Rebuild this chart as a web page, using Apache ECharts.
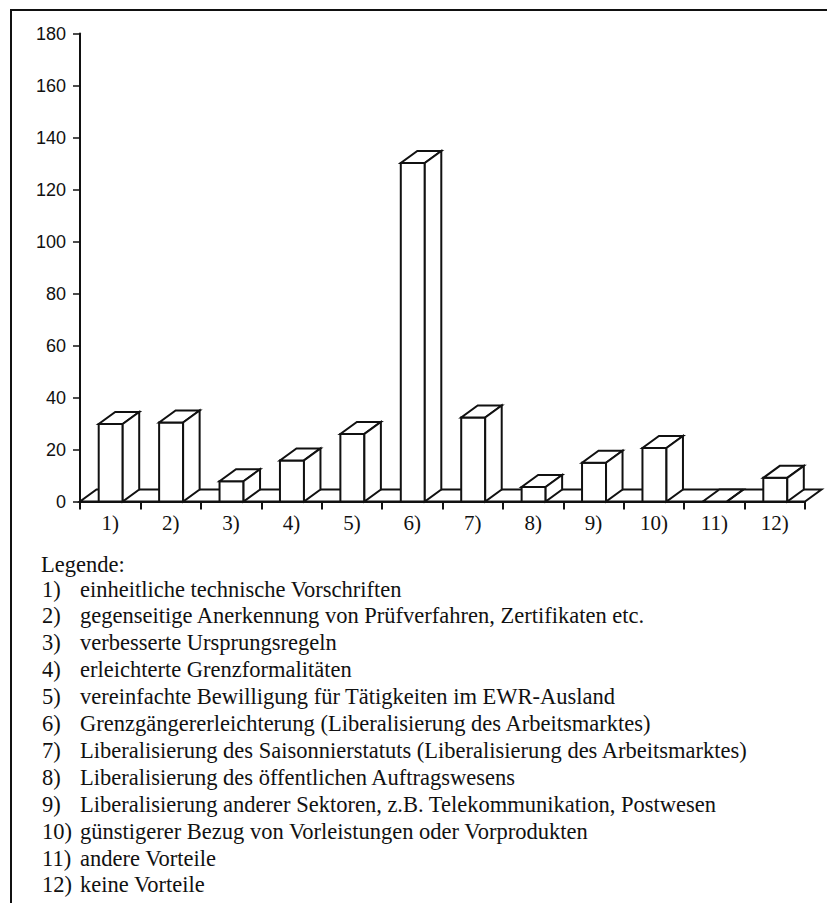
<!DOCTYPE html>
<html><head><meta charset="utf-8">
<script src="https://cdn.jsdelivr.net/npm/echarts@6/dist/echarts.min.js"></script>
<style>html,body{margin:0;padding:0;background:#fff}#c{width:827px;height:905px}</style>
</head><body><div id="c"></div>
<script>
const categories = ['1)','2)','3)','4)','5)','6)','7)','8)','9)','10)','11)','12)'];
const values = [29.8, 30.4, 7.8, 15.8, 26, 130.2, 32.3, 5.6, 14.9, 20.6, 0, 9.1];
const yMin = 0, yMax = 180, yStep = 20;
const legendTitle = 'Legende:';
const legendNumbers = ['1)','2)','3)','4)','5)','6)','7)','8)','9)','10)','11)','12)'];
const legendTexts = [
  'einheitliche technische Vorschriften',
  'gegenseitige Anerkennung von Prüfverfahren, Zertifikaten etc.',
  'verbesserte Ursprungsregeln',
  'erleichterte Grenzformalitäten',
  'vereinfachte Bewilligung für Tätigkeiten im EWR-Ausland',
  'Grenzgängererleichterung (Liberalisierung des Arbeitsmarktes)',
  'Liberalisierung des Saisonnierstatuts (Liberalisierung des Arbeitsmarktes)',
  'Liberalisierung des öffentlichen Auftragswesens',
  'Liberalisierung anderer Sektoren, z.B. Telekommunikation, Postwesen',
  'günstigerer Bezug von Vorleistungen oder Vorprodukten',
  'andere Vorteile',
  'keine Vorteile'
];

const INK = '#111';
const DX = 16.5, DY = -12;
const serif = '"Liberation Serif", "DejaVu Serif", serif';
const sans = '"Liberation Sans", "DejaVu Sans", sans-serif';

const chart = echarts.init(document.getElementById('c'), null, {renderer: 'svg'});

const faceStyle = {fill: '#fff', stroke: INK, lineWidth: 2, lineJoin: 'miter'};

function floorItem(params, api) {
  const cs = params.coordSys;
  const y0 = api.coord([0, 0])[1];
  const xl = cs.x, xr = cs.x + cs.width;
  return {
    type: 'polygon',
    shape: {points: [[xl, y0], [xr, y0], [xr + DX, y0 + DY], [xl + DX, y0 + DY]]},
    style: faceStyle, z2: 0
  };
}

function barItem(params, api) {
  const i = api.value(0), v = api.value(1);
  const b = api.coord([i, 0]);
  const t = api.coord([i, v]);
  const cx = b[0], y0 = b[1], yt = t[1];
  const x0 = cx - 11.5, x1 = cx + 12.5;
  return {
    type: 'group',
    children: [
      {type: 'polygon', shape: {points: [[x0, y0], [x1, y0], [x1, yt], [x0, yt]]}, style: faceStyle},
      {type: 'polygon', shape: {points: [[x0, yt], [x1, yt], [x1 + DX, yt + DY], [x0 + DX, yt + DY]]}, style: faceStyle},
      {type: 'polygon', shape: {points: [[x1, y0], [x1, yt], [x1 + DX, yt + DY], [x1 + DX, y0 + DY]]}, style: faceStyle}
    ]
  };
}

const LF = '22.5px ' + serif;
const legendGraphics = [];
legendGraphics.push({type: 'text', x: 41, y: 564, style: {text: legendTitle, font: LF, fill: INK, verticalAlign: 'middle'}});
legendNumbers.forEach((n, k) => {
  const y = 589 + k * 26.9;
  legendGraphics.push({type: 'text', x: 42, y: y, style: {text: n, font: LF, fill: INK, verticalAlign: 'middle'}});
  legendGraphics.push({type: 'text', x: 80, y: y, style: {text: legendTexts[k], font: LF, fill: INK, verticalAlign: 'middle'}});
});

chart.setOption({
  animation: false,
  backgroundColor: '#fff',
  grid: {left: 80, right: 22, top: 33.5, bottom: 403.5, containLabel: false},
  xAxis: {
    type: 'category', data: categories, boundaryGap: true,
    axisLine: {show: true, lineStyle: {color: INK, width: 2}},
    axisTick: {show: true, length: 8, alignWithLabel: false, lineStyle: {color: INK, width: 2}},
    axisLabel: {color: INK, fontFamily: serif, fontSize: 21, margin: 11},
    splitLine: {show: false}, z: 10
  },
  yAxis: {
    type: 'value', min: yMin, max: yMax, interval: yStep,
    axisLine: {show: true, lineStyle: {color: INK, width: 2}},
    axisTick: {show: true, length: 7, lineStyle: {color: INK, width: 1.5}},
    axisLabel: {color: INK, fontFamily: sans, fontSize: 18, margin: 14},
    splitLine: {show: false}
  },
  graphic: [
    {type: 'line', shape: {x1: 10, y1: 10, x2: 827, y2: 10}, style: {stroke: INK, lineWidth: 2}},
    {type: 'line', shape: {x1: 11, y1: 10, x2: 11, y2: 903}, style: {stroke: INK, lineWidth: 2}}
  ].concat(legendGraphics),
  series: [
    {type: 'custom', name: 'floor', renderItem: floorItem, data: [[0, 0]], encode: {x: 0, y: 1}, z: 1, silent: true},
    {type: 'custom', name: 'bars', renderItem: barItem, data: values.map((v, i) => [i, v]), encode: {x: 0, y: 1}, z: 2, silent: true}
  ]
});
</script></body></html>
